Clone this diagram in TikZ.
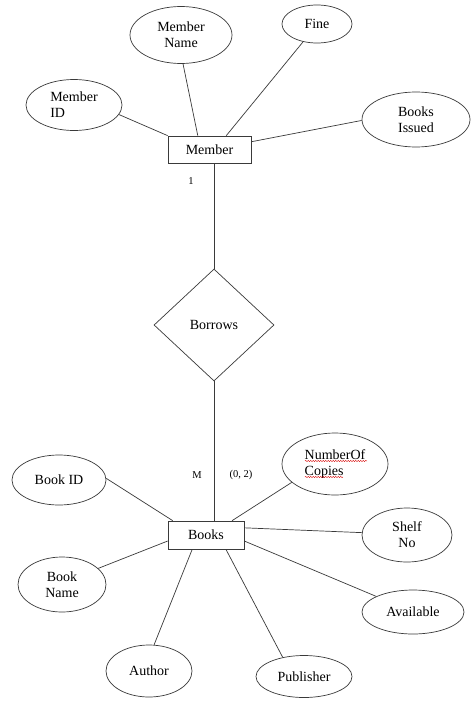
\documentclass[tikz,border=0pt]{standalone}
\usepackage{fontspec}
\setmainfont{Liberation Serif}
\usetikzlibrary{shapes.geometric,calc,decorations.pathmorphing}
\definecolor{linec}{HTML}{3A3A3A}
\begin{document}
\begin{tikzpicture}[x=1pt,y=-1pt,
  attr/.style={ellipse,draw=linec,line width=0.7pt,inner sep=0pt,font=\fontsize{14}{16}\selectfont,align=center},
  ent/.style={rectangle,draw=linec,line width=0.7pt,inner sep=0pt,font=\fontsize{14}{16}\selectfont},
  rel/.style={diamond,draw=linec,line width=0.7pt,inner sep=0pt,font=\fontsize{14}{16}\selectfont},
  conn/.style={draw=linec,line width=0.7pt},
  card/.style={font=\fontsize{10.5}{12}\selectfont,inner sep=0pt},
  spell/.style={draw=red!85!black,line width=0.45pt,decorate,decoration={snake,amplitude=0.6pt,segment length=2.5pt}}]
\useasboundingbox[fill=white] (0,0) rectangle (474,717);

% entities and relationship
\node[ent,minimum width=83pt,minimum height=27pt] (member) at (209.5,149.5) {Member};
\node[rel,minimum width=120pt,minimum height=112pt] (borrows) at (214,325) {Borrows};
\node[ent,minimum width=76pt,minimum height=28pt] (books) at (206,535) {Books};

% member attributes
\node[attr,minimum width=102pt,minimum height=57pt] (mname) at (181,35) {Member\\Name};
\node[attr,minimum width=70pt,minimum height=38pt] (fine) at (317,24) {Fine};
\node[attr,minimum width=96pt,minimum height=51pt,align=left] (mid) at (74,105) {Member\\ID};
\node[attr,minimum width=108pt,minimum height=55pt] (bissued) at (416,119.5) {Books\\Issued};

% books attributes
\node[attr,minimum width=94pt,minimum height=50pt] (bookid) at (59,480) {Book ID};
\node[attr,minimum width=106pt,minimum height=62pt,align=left] (ncopies) at (335,464) {NumberOf\\Copies};
\node[attr,minimum width=90pt,minimum height=54pt] (shelf) at (407,535) {Shelf\\No};
\node[attr,minimum width=88pt,minimum height=55pt] (bname) at (62,584.5) {Book\\Name};
\node[attr,minimum width=102pt,minimum height=44pt] (avail) at (413,612) {Available};
\node[attr,minimum width=86pt,minimum height=52pt] (author) at (149,671) {Author};
\node[attr,minimum width=96pt,minimum height=42pt] (publisher) at (304,676.5) {Publisher};

% cardinalities
\node[card] (one) at (191,181) {1};
\node[card] (many) at (197,475) {M};
\node[card] (range) at (241,475) {(0, 2)};

% spell-check underline
\draw[spell] ($(ncopies.center)+(-30,-3)$) -- ++(62,0);
\draw[spell] ($(ncopies.center)+(-30,13)$) -- ++(38,0);

% member connectors
\draw[conn] (mid.348) -- (member.north west);
\draw[conn] (mname.274) -- ($(member.north west)!0.36!(member.north east)$);
\draw[conn] (fine.232) -- ($(member.north west)!0.70!(member.north east)$);
\draw[conn] (bissued.181) -- ($(member.north east)!0.22!(member.south east)$);
\draw[conn] (member.south -| borrows.north) -- (borrows.north);
\draw[conn] (borrows.south) -- (borrows.south |- books.north);

% books connectors
\draw[conn] (bookid.2) -- ($(books.north west)!0.066!(books.north east)$);
\draw[conn] (ncopies.203) -- ($(books.north west)!0.84!(books.north east)$);
\draw[conn] (shelf.177) -- ($(books.north east)!0.25!(books.south east)$);
\draw[conn] (avail.157) -- ($(books.north east)!0.71!(books.south east)$);
\draw[conn] (publisher.138) -- ($(books.south west)!0.76!(books.south east)$);
\draw[conn] (author.79) -- ($(books.south west)!0.32!(books.south east)$);
\draw[conn] (bname.24) -- ($(books.north west)!0.71!(books.south west)$);
\end{tikzpicture}
\end{document}
